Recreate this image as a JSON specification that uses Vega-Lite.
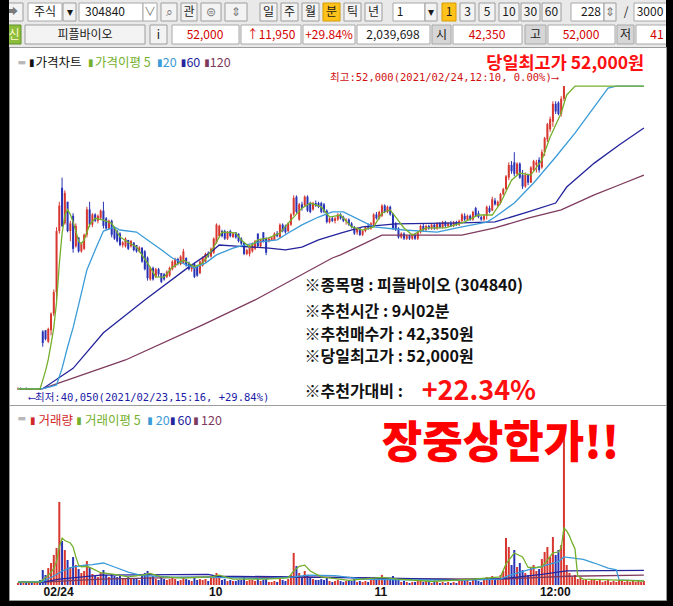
{
"$schema": "https://vega.github.io/schema/vega-lite/v6.json",
"background": "#000000",
"padding": {"left": 8, "right": 8, "top": 0, "bottom": 6},
"spacing": 0,
"bounds": "flush",
"resolve": {"scale": {"color": "independent", "fill": "independent", "stroke": "independent"}},
"config": {"view": {"stroke": null}, "font": "Noto Sans CJK KR"},
"datasets": {
"candles": [
{"i":0,"o":40100,"h":40150,"l":40050,"c":40100,"v":1700},{"i":1,"o":40100,"h":40150,"l":40050,"c":40050,"v":2600},{"i":2,"o":40050,"h":40100,"l":40050,"c":40100,"v":1700},{"i":3,"o":40100,"h":40150,"l":40050,"c":40050,"v":3400},{"i":4,"o":40050,"h":40100,"l":40050,"c":40100,"v":1700},{"i":5,"o":40100,"h":40100,"l":40050,"c":40050,"v":2600},{"i":6,"o":40050,"h":40100,"l":40050,"c":40050,"v":1700},{"i":7,"o":40050,"h":40100,"l":40050,"c":40100,"v":3400},{"i":8,"o":40100,"h":40100,"l":40050,"c":40050,"v":4300},
{"i":9,"o":42350,"h":42400,"l":41750,"c":41900,"v":12800},{"i":10,"o":42400,"h":42400,"l":42000,"c":42050,"v":8600},{"i":11,"o":41950,"h":42500,"l":41900,"c":42450,"v":14500},{"i":12,"o":42400,"h":43100,"l":42200,"c":43050,"v":18800},{"i":13,"o":43050,"h":44000,"l":42950,"c":43900,"v":25700},{"i":14,"o":43900,"h":46450,"l":43600,"c":46300,"v":31600},{"i":15,"o":46300,"h":47450,"l":46200,"c":47300,"v":71000},{"i":16,"o":48000,"h":48400,"l":46450,"c":46500,"v":37600},{"i":17,"o":46600,"h":47900,"l":46550,"c":47800,"v":29900},{"i":18,"o":47450,"h":47450,"l":46250,"c":46300,"v":21400},{"i":19,"o":46300,"h":46700,"l":45900,"c":46600,"v":15400},{"i":20,"o":46900,"h":47000,"l":45450,"c":45600,"v":23900},{"i":21,"o":45700,"h":46600,"l":45650,"c":46500,"v":17100},{"i":22,"o":46050,"h":46050,"l":45450,"c":45500,"v":13700},{"i":23,"o":45500,"h":45850,"l":45450,"c":45800,"v":10300},{"i":24,"o":45600,"h":46200,"l":45550,"c":46150,"v":12000},{"i":25,"o":46150,"h":47250,"l":46050,"c":47150,"v":20500},{"i":26,"o":47150,"h":47450,"l":46450,"c":46550,"v":15400},{"i":27,"o":46550,"h":47000,"l":46450,"c":46950,"v":9400},{"i":28,"o":46950,"h":47000,"l":46650,"c":46700,"v":7700},{"i":29,"o":46700,"h":46950,"l":46600,"c":46900,"v":6800},{"i":30,"o":46800,"h":47150,"l":46750,"c":47100,"v":10300},{"i":31,"o":47100,"h":47450,"l":46400,"c":46500,"v":12800},{"i":32,"o":46800,"h":46850,"l":46350,"c":46400,"v":8600},{"i":33,"o":46400,"h":46750,"l":46350,"c":46700,"v":6800},{"i":34,"o":46700,"h":46750,"l":46050,"c":46150,"v":9400},{"i":35,"o":46450,"h":46450,"l":45950,"c":46000,"v":7700},{"i":36,"o":46300,"h":46350,"l":45850,"c":45900,"v":6800},{"i":37,"o":46200,"h":46250,"l":45700,"c":45750,"v":8600},{"i":38,"o":45750,"h":45900,"l":45650,"c":45850,"v":5100},{"i":39,"o":45700,"h":46050,"l":45650,"c":46000,"v":6000},{"i":40,"o":45950,"h":45950,"l":45550,"c":45600,"v":6800},{"i":41,"o":45700,"h":45950,"l":45650,"c":45900,"v":5100},{"i":42,"o":45850,"h":45850,"l":45500,"c":45550,"v":6000},{"i":43,"o":45750,"h":45750,"l":45450,"c":45500,"v":5100},{"i":44,"o":45500,"h":45700,"l":45450,"c":45650,"v":4300},{"i":45,"o":45650,"h":45650,"l":45050,"c":45100,"v":7700},{"i":46,"o":45500,"h":45550,"l":44750,"c":44800,"v":10300},{"i":47,"o":45250,"h":45300,"l":44350,"c":44450,"v":12000},{"i":48,"o":44400,"h":44900,"l":44350,"c":44850,"v":6800},{"i":49,"o":44850,"h":44900,"l":44350,"c":44400,"v":7700},{"i":50,"o":44500,"h":44850,"l":44450,"c":44800,"v":5100},{"i":51,"o":44800,"h":44850,"l":44500,"c":44600,"v":4300},{"i":52,"o":44650,"h":44650,"l":44250,"c":44300,"v":6800},{"i":53,"o":44600,"h":44650,"l":44350,"c":44400,"v":5100},{"i":54,"o":44500,"h":44750,"l":44450,"c":44700,"v":4300},{"i":55,"o":44550,"h":44900,"l":44500,"c":44850,"v":5100},{"i":56,"o":44800,"h":45150,"l":44750,"c":45100,"v":6000},{"i":57,"o":44900,"h":45250,"l":44850,"c":45200,"v":5100},{"i":58,"o":45200,"h":45250,"l":44950,"c":45000,"v":3400},{"i":59,"o":45000,"h":45350,"l":44950,"c":45300,"v":4300},{"i":60,"o":45050,"h":45600,"l":45000,"c":45500,"v":6800},{"i":61,"o":45250,"h":45250,"l":44900,"c":44950,"v":5100},{"i":62,"o":45050,"h":45100,"l":44750,"c":44800,"v":4300},{"i":63,"o":44800,"h":45000,"l":44700,"c":44950,"v":3400},{"i":64,"o":45000,"h":45050,"l":44450,"c":44500,"v":6000},{"i":65,"o":44900,"h":44950,"l":44500,"c":44550,"v":4300},{"i":66,"o":44650,"h":45150,"l":44600,"c":45100,"v":5100},{"i":67,"o":44950,"h":45300,"l":44900,"c":45250,"v":4300},{"i":68,"o":45100,"h":45450,"l":45050,"c":45400,"v":5100},{"i":69,"o":45400,"h":45500,"l":45250,"c":45300,"v":3400},{"i":70,"o":45300,"h":45650,"l":45250,"c":45600,"v":6000},{"i":71,"o":45450,"h":46050,"l":45400,"c":46000,"v":7700},{"i":72,"o":45850,"h":46600,"l":45800,"c":46550,"v":10300},{"i":73,"o":46100,"h":46550,"l":46050,"c":46500,"v":6800},{"i":74,"o":46300,"h":46350,"l":46050,"c":46100,"v":4300},{"i":75,"o":46300,"h":46350,"l":45950,"c":46000,"v":5100},{"i":76,"o":46000,"h":46300,"l":45950,"c":46250,"v":3400},{"i":77,"o":46300,"h":46350,"l":46050,"c":46100,"v":4300},{"i":78,"o":46050,"h":46250,"l":46050,"c":46200,"v":3400},{"i":79,"o":46250,"h":46250,"l":46000,"c":46050,"v":3400},{"i":80,"o":46200,"h":46200,"l":45850,"c":45900,"v":4300},{"i":81,"o":46000,"h":46050,"l":45750,"c":45800,"v":4300},{"i":82,"o":45850,"h":45850,"l":45350,"c":45400,"v":6800},{"i":83,"o":45400,"h":45600,"l":45350,"c":45550,"v":3400},{"i":84,"o":45400,"h":45750,"l":45300,"c":45700,"v":4300},{"i":85,"o":45500,"h":45850,"l":45450,"c":45800,"v":4300},{"i":86,"o":45600,"h":45950,"l":45550,"c":45900,"v":3400},{"i":87,"o":46200,"h":46200,"l":45650,"c":45700,"v":5100},{"i":88,"o":45700,"h":46000,"l":45650,"c":45950,"v":3400},{"i":89,"o":46250,"h":46250,"l":45850,"c":45900,"v":4300},{"i":90,"o":46000,"h":46050,"l":45350,"c":45450,"v":6000},{"i":91,"o":45900,"h":46050,"l":45850,"c":46000,"v":2600},{"i":92,"o":45950,"h":46050,"l":45950,"c":46050,"v":2600},{"i":93,"o":45950,"h":46250,"l":45950,"c":46200,"v":3400},{"i":94,"o":46200,"h":46300,"l":46050,"c":46100,"v":2600},{"i":95,"o":46050,"h":46600,"l":46050,"c":46550,"v":5100},{"i":96,"o":46550,"h":46600,"l":46250,"c":46300,"v":4300},{"i":97,"o":46500,"h":46550,"l":46200,"c":46250,"v":3400},{"i":98,"o":46300,"h":46650,"l":46250,"c":46600,"v":5100},{"i":99,"o":46550,"h":47000,"l":46500,"c":46950,"v":8600},{"i":100,"o":46950,"h":47700,"l":46900,"c":47600,"v":27400},{"i":101,"o":47650,"h":47700,"l":47000,"c":47050,"v":16200},{"i":102,"o":46750,"h":47400,"l":46700,"c":47350,"v":10300},{"i":103,"o":47350,"h":47450,"l":47100,"c":47200,"v":6000},{"i":104,"o":47300,"h":47700,"l":47250,"c":47650,"v":12000},{"i":105,"o":47650,"h":47700,"l":47050,"c":47100,"v":8600},{"i":106,"o":47400,"h":47450,"l":47000,"c":47050,"v":6800},{"i":107,"o":47150,"h":47450,"l":47100,"c":47400,"v":5100},{"i":108,"o":47400,"h":47500,"l":47250,"c":47300,"v":4300},{"i":109,"o":47400,"h":47450,"l":47200,"c":47250,"v":4300},{"i":110,"o":47400,"h":47450,"l":47000,"c":47050,"v":5100},{"i":111,"o":47350,"h":47400,"l":47000,"c":47050,"v":4300},{"i":112,"o":47100,"h":47150,"l":46600,"c":46650,"v":6000},{"i":113,"o":46650,"h":46850,"l":46600,"c":46800,"v":3400},{"i":114,"o":46800,"h":46850,"l":46650,"c":46700,"v":2600},{"i":115,"o":46700,"h":46850,"l":46600,"c":46800,"v":3400},{"i":116,"o":46750,"h":47000,"l":46700,"c":46950,"v":4300},{"i":117,"o":46950,"h":47000,"l":46750,"c":46800,"v":3400},{"i":118,"o":46850,"h":46900,"l":46650,"c":46700,"v":2600},{"i":119,"o":46700,"h":46800,"l":46550,"c":46750,"v":3400},{"i":120,"o":46750,"h":46800,"l":46500,"c":46550,"v":4300},{"i":121,"o":46600,"h":46650,"l":46400,"c":46450,"v":3400},{"i":122,"o":46450,"h":46500,"l":46150,"c":46200,"v":5100},{"i":123,"o":46250,"h":46450,"l":46150,"c":46400,"v":2600},{"i":124,"o":46400,"h":46400,"l":46100,"c":46150,"v":3400},{"i":125,"o":46150,"h":46350,"l":46100,"c":46300,"v":2600},{"i":126,"o":46300,"h":46500,"l":46250,"c":46450,"v":3400},{"i":127,"o":46450,"h":46600,"l":46350,"c":46400,"v":2600},{"i":128,"o":46400,"h":46650,"l":46350,"c":46600,"v":4300},{"i":129,"o":46550,"h":47000,"l":46500,"c":46950,"v":6800},{"i":130,"o":46950,"h":47050,"l":46750,"c":46800,"v":4300},{"i":131,"o":46800,"h":47100,"l":46750,"c":47050,"v":6000},{"i":132,"o":46900,"h":47350,"l":46850,"c":47300,"v":8600},{"i":133,"o":47300,"h":47350,"l":47000,"c":47050,"v":5100},{"i":134,"o":47050,"h":47300,"l":47000,"c":47250,"v":4300},{"i":135,"o":47250,"h":47300,"l":46900,"c":46950,"v":5100},{"i":136,"o":47000,"h":47000,"l":46350,"c":46400,"v":7700},{"i":137,"o":46600,"h":46650,"l":46300,"c":46350,"v":5100},{"i":138,"o":46400,"h":46450,"l":46000,"c":46050,"v":4300},{"i":139,"o":46050,"h":46250,"l":46000,"c":46200,"v":2600},{"i":140,"o":46200,"h":46250,"l":45950,"c":46000,"v":3400},{"i":141,"o":46000,"h":46150,"l":45950,"c":46100,"v":2600},{"i":142,"o":46100,"h":46150,"l":45950,"c":46000,"v":1700},{"i":143,"o":46000,"h":46200,"l":45950,"c":46150,"v":2600},{"i":144,"o":46150,"h":46200,"l":45950,"c":46000,"v":2600},{"i":145,"o":46000,"h":46300,"l":45950,"c":46250,"v":3400},{"i":146,"o":46250,"h":46550,"l":46200,"c":46500,"v":4300},{"i":147,"o":46500,"h":46600,"l":46300,"c":46350,"v":2600},{"i":148,"o":46350,"h":46550,"l":46300,"c":46500,"v":3400},{"i":149,"o":46500,"h":46550,"l":46350,"c":46400,"v":2600},{"i":150,"o":46400,"h":46600,"l":46350,"c":46550,"v":1700},{"i":151,"o":46550,"h":46600,"l":46350,"c":46400,"v":2600},{"i":152,"o":46400,"h":46650,"l":46350,"c":46600,"v":2600},{"i":153,"o":46600,"h":46650,"l":46400,"c":46450,"v":1700},{"i":154,"o":46450,"h":46700,"l":46400,"c":46650,"v":2600},{"i":155,"o":46650,"h":46700,"l":46450,"c":46500,"v":1700},{"i":156,"o":46500,"h":46650,"l":46450,"c":46600,"v":2600},{"i":157,"o":46600,"h":46700,"l":46450,"c":46500,"v":1700},{"i":158,"o":46500,"h":46700,"l":46450,"c":46650,"v":2600},{"i":159,"o":46650,"h":46700,"l":46500,"c":46550,"v":1700},{"i":160,"o":46550,"h":46750,"l":46500,"c":46700,"v":3400},{"i":161,"o":46700,"h":47000,"l":46650,"c":46950,"v":5100},{"i":162,"o":46900,"h":47000,"l":46700,"c":46750,"v":3400},{"i":163,"o":46750,"h":46950,"l":46700,"c":46900,"v":4300},{"i":164,"o":46900,"h":46950,"l":46700,"c":46750,"v":2600},{"i":165,"o":46750,"h":47100,"l":46700,"c":47050,"v":5100},{"i":166,"o":47200,"h":47250,"l":46850,"c":46900,"v":6000},{"i":167,"o":47000,"h":47100,"l":46800,"c":46850,"v":3400},{"i":168,"o":46850,"h":46900,"l":46700,"c":46750,"v":2600},{"i":169,"o":46750,"h":46950,"l":46700,"c":46900,"v":4300},{"i":170,"o":46900,"h":47300,"l":46750,"c":47250,"v":6800},{"i":171,"o":47200,"h":47300,"l":47000,"c":47050,"v":4300},{"i":172,"o":47100,"h":47650,"l":47100,"c":47550,"v":7700},{"i":173,"o":47500,"h":47600,"l":47300,"c":47350,"v":5100},{"i":174,"o":47300,"h":47500,"l":47250,"c":47450,"v":6000},{"i":175,"o":47400,"h":47800,"l":47350,"c":47750,"v":8600},{"i":176,"o":47750,"h":48000,"l":47700,"c":47950,"v":12000},{"i":177,"o":47950,"h":48500,"l":47900,"c":48450,"v":40200},{"i":178,"o":48400,"h":49000,"l":48300,"c":48900,"v":32500},{"i":179,"o":48900,"h":49050,"l":48550,"c":48650,"v":17100},{"i":180,"o":49000,"h":49400,"l":48450,"c":48550,"v":29900},{"i":181,"o":48550,"h":49000,"l":48500,"c":48950,"v":15400},{"i":182,"o":48950,"h":49000,"l":48350,"c":48400,"v":18800},{"i":183,"o":48500,"h":48700,"l":47950,"c":48050,"v":12800},{"i":184,"o":48050,"h":48600,"l":48000,"c":48500,"v":10300},{"i":185,"o":48500,"h":48550,"l":48100,"c":48200,"v":8600},{"i":186,"o":48200,"h":48850,"l":48200,"c":48800,"v":15400},{"i":187,"o":48700,"h":49100,"l":48650,"c":49050,"v":17100},{"i":188,"o":48900,"h":49100,"l":48600,"c":49000,"v":12000},{"i":189,"o":49100,"h":49200,"l":48600,"c":48700,"v":13700},{"i":190,"o":48800,"h":49500,"l":48750,"c":49400,"v":22200},{"i":191,"o":49400,"h":50000,"l":49250,"c":49950,"v":28200},{"i":192,"o":49900,"h":50550,"l":49800,"c":50500,"v":32500},{"i":193,"o":50300,"h":50800,"l":50200,"c":50700,"v":23900},{"i":194,"o":50600,"h":51400,"l":50400,"c":51300,"v":41000},{"i":195,"o":51300,"h":51400,"l":50900,"c":51000,"v":25700},{"i":196,"o":51350,"h":51400,"l":50850,"c":50900,"v":29900},{"i":197,"o":50900,"h":51600,"l":50800,"c":51500,"v":34200},{"i":198,"o":51500,"h":52000,"l":51400,"c":52000,"v":132500},
{"i":199,"o":52000,"h":52000,"l":52000,"c":52000,"v":17100},{"i":200,"o":52000,"h":52000,"l":52000,"c":52000,"v":10300},{"i":201,"o":52000,"h":52000,"l":52000,"c":52000,"v":6800},{"i":202,"o":52000,"h":52000,"l":52000,"c":52000,"v":8600},{"i":203,"o":52000,"h":52000,"l":52000,"c":52000,"v":5100},{"i":204,"o":52000,"h":52000,"l":52000,"c":52000,"v":6000},{"i":205,"o":52000,"h":52000,"l":52000,"c":52000,"v":4300},{"i":206,"o":52000,"h":52000,"l":52000,"c":52000,"v":5100},{"i":207,"o":52000,"h":52000,"l":52000,"c":52000,"v":3400},{"i":208,"o":52000,"h":52000,"l":52000,"c":52000,"v":4300},{"i":209,"o":52000,"h":52000,"l":52000,"c":52000,"v":5100},{"i":210,"o":52000,"h":52000,"l":52000,"c":52000,"v":3400},{"i":211,"o":52000,"h":52000,"l":52000,"c":52000,"v":4300},{"i":212,"o":52000,"h":52000,"l":52000,"c":52000,"v":2600},{"i":213,"o":52000,"h":52000,"l":52000,"c":52000,"v":3400},{"i":214,"o":52000,"h":52000,"l":52000,"c":52000,"v":4300},{"i":215,"o":52000,"h":52000,"l":52000,"c":52000,"v":2600},{"i":216,"o":52000,"h":52000,"l":52000,"c":52000,"v":3400},{"i":217,"o":52000,"h":52000,"l":52000,"c":52000,"v":2600},{"i":218,"o":52000,"h":52000,"l":52000,"c":52000,"v":4300},{"i":219,"o":52000,"h":52000,"l":52000,"c":52000,"v":3400},{"i":220,"o":52000,"h":52000,"l":52000,"c":52000,"v":2600},{"i":221,"o":52000,"h":52000,"l":52000,"c":52000,"v":3400},{"i":222,"o":52000,"h":52000,"l":52000,"c":52000,"v":2600},{"i":223,"o":52000,"h":52000,"l":52000,"c":52000,"v":4300},{"i":224,"o":52000,"h":52000,"l":52000,"c":52000,"v":2600},{"i":225,"o":52000,"h":52000,"l":52000,"c":52000,"v":3400},{"i":226,"o":52000,"h":52000,"l":52000,"c":52000,"v":2600},{"i":227,"o":52000,"h":52000,"l":52000,"c":52000,"v":3400}
],
"ma": [
{"s":"120","i":0,"p":40100},{"s":"120","i":9,"p":40100},{"s":"120","i":39,"p":41230},{"s":"120","i":67,"p":42610},{"s":"120","i":86,"p":43590},{"s":"120","i":114,"p":45240},{"s":"120","i":117,"p":45360},{"s":"120","i":132,"p":46140},{"s":"120","i":161,"p":46140},{"s":"120","i":173,"p":46420},{"s":"120","i":185,"p":46810},{"s":"120","i":197,"p":47130},{"s":"120","i":209,"p":47720},{"s":"120","i":218,"p":48110},{"s":"120","i":227,"p":48500},
{"s":"60","i":0,"p":40100},{"s":"60","i":9,"p":40100},{"s":"60","i":20,"p":40900},{"s":"60","i":31,"p":42300},{"s":"60","i":46,"p":43590},{"s":"60","i":62,"p":44890},{"s":"60","i":70,"p":45480},{"s":"60","i":73,"p":45750},{"s":"60","i":79,"p":45710},{"s":"60","i":91,"p":45630},{"s":"60","i":97,"p":45560},{"s":"60","i":103,"p":45670},{"s":"60","i":109,"p":45950},{"s":"60","i":117,"p":46220},{"s":"60","i":125,"p":46460},{"s":"60","i":137,"p":46580},{"s":"60","i":161,"p":46620},{"s":"60","i":173,"p":46660},{"s":"60","i":185,"p":47050},{"s":"60","i":195,"p":47400},{"s":"60","i":199,"p":48030},{"s":"60","i":209,"p":48970},{"s":"60","i":218,"p":49680},{"s":"60","i":227,"p":50350},
{"s":"20","i":0,"p":40100},{"s":"20","i":9,"p":40100},{"s":"20","i":12,"p":40180},{"s":"20","i":14,"p":40250},{"s":"20","i":16,"p":40900},{"s":"20","i":18,"p":41740},{"s":"20","i":20,"p":42500},{"s":"20","i":22,"p":43400},{"s":"20","i":25,"p":44770},{"s":"20","i":28,"p":45550},{"s":"20","i":31,"p":46300},{"s":"20","i":35,"p":46460},{"s":"20","i":37,"p":46340},{"s":"20","i":43,"p":46260},{"s":"20","i":47,"p":45950},{"s":"20","i":52,"p":45560},{"s":"20","i":56,"p":45240},{"s":"20","i":61,"p":44970},{"s":"20","i":64,"p":44850},{"s":"20","i":68,"p":45040},{"s":"20","i":72,"p":45360},{"s":"20","i":78,"p":45630},{"s":"20","i":82,"p":45750},{"s":"20","i":88,"p":45870},{"s":"20","i":94,"p":45950},{"s":"20","i":98,"p":46220},{"s":"20","i":103,"p":46540},{"s":"20","i":109,"p":46850},{"s":"20","i":114,"p":47050},{"s":"20","i":118,"p":47050},{"s":"20","i":129,"p":46460},{"s":"20","i":140,"p":46340},{"s":"20","i":152,"p":46260},{"s":"20","i":161,"p":46460},{"s":"20","i":170,"p":46650},{"s":"20","i":173,"p":46850},{"s":"20","i":180,"p":47400},{"s":"20","i":187,"p":48190},{"s":"20","i":195,"p":49210},{"s":"20","i":202,"p":50150},{"s":"20","i":209,"p":51180},{"s":"20","i":214,"p":51920},{"s":"20","i":217,"p":52000},{"s":"20","i":227,"p":52000},
{"s":"5","i":0,"p":40090},{"s":"5","i":8,"p":40090},{"s":"5","i":9,"p":40440},{"s":"5","i":10,"p":40800},{"s":"5","i":11,"p":41250},{"s":"5","i":12,"p":41850},{"s":"5","i":13,"p":42500},{"s":"5","i":14,"p":43500},{"s":"5","i":15,"p":45000},{"s":"5","i":16,"p":46200},{"s":"5","i":17,"p":46900},{"s":"5","i":18,"p":47150},{"s":"5","i":19,"p":46950},{"s":"5","i":20,"p":46650},{"s":"5","i":21,"p":46300},{"s":"5","i":22,"p":45900},{"s":"5","i":23,"p":45800},{"s":"5","i":24,"p":45950},{"s":"5","i":25,"p":46250},{"s":"5","i":26,"p":46550},{"s":"5","i":28,"p":46800},{"s":"5","i":31,"p":46730},{"s":"5","i":34,"p":46600},{"s":"5","i":37,"p":46070},{"s":"5","i":40,"p":45850},{"s":"5","i":43,"p":45670},{"s":"5","i":47,"p":45040},{"s":"5","i":50,"p":44500},{"s":"5","i":53,"p":44490},{"s":"5","i":56,"p":44880},{"s":"5","i":60,"p":45160},{"s":"5","i":64,"p":44890},{"s":"5","i":67,"p":45040},{"s":"5","i":71,"p":45670},{"s":"5","i":74,"p":46260},{"s":"5","i":77,"p":46250},{"s":"5","i":79,"p":46220},{"s":"5","i":81,"p":45950},{"s":"5","i":84,"p":45670},{"s":"5","i":87,"p":45950},{"s":"5","i":91,"p":46030},{"s":"5","i":95,"p":46220},{"s":"5","i":99,"p":46730},{"s":"5","i":103,"p":47200},{"s":"5","i":106,"p":47400},{"s":"5","i":110,"p":47250},{"s":"5","i":113,"p":46850},{"s":"5","i":117,"p":46930},{"s":"5","i":121,"p":46460},{"s":"5","i":125,"p":46340},{"s":"5","i":129,"p":46460},{"s":"5","i":132,"p":47010},{"s":"5","i":135,"p":47130},{"s":"5","i":137,"p":46850},{"s":"5","i":140,"p":46420},{"s":"5","i":143,"p":46140},{"s":"5","i":148,"p":46420},{"s":"5","i":155,"p":46420},{"s":"5","i":162,"p":46660},{"s":"5","i":167,"p":46930},{"s":"5","i":172,"p":46930},{"s":"5","i":175,"p":47400},{"s":"5","i":179,"p":48300},{"s":"5","i":182,"p":48580},{"s":"5","i":186,"p":48500},{"s":"5","i":190,"p":49090},{"s":"5","i":193,"p":50000},{"s":"5","i":197,"p":50940},{"s":"5","i":199,"p":51650},{"s":"5","i":202,"p":52000},{"s":"5","i":227,"p":52000}
],
"vma": [
{"s":"120","i":0,"v":2500},{"s":"120","i":9,"v":2500},{"s":"120","i":30,"v":5000},{"s":"120","i":69,"v":7000},{"s":"120","i":120,"v":6500},{"s":"120","i":130,"v":5500},{"s":"120","i":176,"v":5000},{"s":"120","i":199,"v":7500},{"s":"120","i":227,"v":8500},
{"s":"60","i":0,"v":2500},{"s":"60","i":9,"v":2500},{"s":"60","i":15,"v":5000},{"s":"60","i":30,"v":8500},{"s":"60","i":69,"v":9000},{"s":"60","i":72,"v":7500},{"s":"60","i":100,"v":7000},{"s":"60","i":110,"v":6500},{"s":"60","i":130,"v":6000},{"s":"60","i":160,"v":4500},{"s":"60","i":176,"v":5500},{"s":"60","i":190,"v":9000},{"s":"60","i":199,"v":12000},{"s":"60","i":227,"v":12500},
{"s":"20","i":0,"v":2500},{"s":"20","i":9,"v":3000},{"s":"20","i":14,"v":9000},{"s":"20","i":16,"v":12000},{"s":"20","i":20,"v":15400},{"s":"20","i":25,"v":17100},{"s":"20","i":27,"v":17500},{"s":"20","i":31,"v":18800},{"s":"20","i":35,"v":15400},{"s":"20","i":40,"v":11000},{"s":"20","i":45,"v":8000},{"s":"20","i":55,"v":7000},{"s":"20","i":70,"v":6500},{"s":"20","i":90,"v":5500},{"s":"20","i":100,"v":7000},{"s":"20","i":105,"v":8500},{"s":"20","i":115,"v":8000},{"s":"20","i":125,"v":5000},{"s":"20","i":140,"v":4500},{"s":"20","i":160,"v":4000},{"s":"20","i":175,"v":5000},{"s":"20","i":178,"v":8000},{"s":"20","i":185,"v":13000},{"s":"20","i":190,"v":16000},{"s":"20","i":196,"v":20000},{"s":"20","i":198,"v":24000},{"s":"20","i":205,"v":22000},{"s":"20","i":209,"v":18800},{"s":"20","i":214,"v":14500},{"s":"20","i":217,"v":13000},{"s":"20","i":218,"v":4300},{"s":"20","i":222,"v":4000},{"s":"20","i":227,"v":3800},
{"s":"5","i":0,"v":2500},{"s":"5","i":8,"v":2500},{"s":"5","i":9,"v":4500},{"s":"5","i":11,"v":8000},{"s":"5","i":13,"v":14000},{"s":"5","i":14,"v":20000},{"s":"5","i":15,"v":32500},{"s":"5","i":16,"v":40000},{"s":"5","i":17,"v":38000},{"s":"5","i":19,"v":35900},{"s":"5","i":20,"v":32500},{"s":"5","i":21,"v":24000},{"s":"5","i":22,"v":17000},{"s":"5","i":23,"v":15500},{"s":"5","i":25,"v":16000},{"s":"5","i":27,"v":14000},{"s":"5","i":30,"v":10500},{"s":"5","i":35,"v":9000},{"s":"5","i":40,"v":7000},{"s":"5","i":45,"v":8500},{"s":"5","i":48,"v":10000},{"s":"5","i":52,"v":7000},{"s":"5","i":60,"v":6000},{"s":"5","i":70,"v":7000},{"s":"5","i":73,"v":8500},{"s":"5","i":78,"v":5000},{"s":"5","i":90,"v":5000},{"s":"5","i":98,"v":6000},{"s":"5","i":100,"v":12000},{"s":"5","i":102,"v":16000},{"s":"5","i":104,"v":17000},{"s":"5","i":106,"v":12000},{"s":"5","i":110,"v":7000},{"s":"5","i":120,"v":4000},{"s":"5","i":132,"v":6500},{"s":"5","i":138,"v":5000},{"s":"5","i":150,"v":3000},{"s":"5","i":165,"v":5000},{"s":"5","i":175,"v":7000},{"s":"5","i":177,"v":18000},{"s":"5","i":180,"v":27400},{"s":"5","i":183,"v":24000},{"s":"5","i":185,"v":15000},{"s":"5","i":188,"v":15000},{"s":"5","i":190,"v":15400},{"s":"5","i":192,"v":21400},{"s":"5","i":194,"v":27400},{"s":"5","i":196,"v":28200},{"s":"5","i":197,"v":31600},{"s":"5","i":198,"v":48700},{"s":"5","i":199,"v":46200},{"s":"5","i":200,"v":42000},{"s":"5","i":201,"v":36000},{"s":"5","i":202,"v":31000},{"s":"5","i":203,"v":7700},{"s":"5","i":205,"v":5100},{"s":"5","i":215,"v":4300},{"s":"5","i":227,"v":3400}
],
"tbBox": [
{"x0":1,"x1":22,"y0":3,"y1":21,"k":"btn"},{"x0":27,"x1":61,"y0":3,"y1":21,"k":"box"},{"x0":62,"x1":75,"y0":3,"y1":21,"k":"btn"},{"x0":78,"x1":142,"y0":3,"y1":21,"k":"box"},{"x0":142,"x1":156,"y0":3,"y1":21,"k":"box"},{"x0":160,"x1":176,"y0":3,"y1":21,"k":"btn"},{"x0":180,"x1":196,"y0":3,"y1":21,"k":"btn"},{"x0":200,"x1":220,"y0":3,"y1":21,"k":"btn"},{"x0":224,"x1":246,"y0":3,"y1":21,"k":"btn"},{"x0":259,"x1":276,"y0":3,"y1":21,"k":"btn"},{"x0":280,"x1":297,"y0":3,"y1":21,"k":"btn"},{"x0":301,"x1":318,"y0":3,"y1":21,"k":"btn"},{"x0":322,"x1":339,"y0":3,"y1":21,"k":"hl"},{"x0":343,"x1":360,"y0":3,"y1":21,"k":"btn"},{"x0":364,"x1":381,"y0":3,"y1":21,"k":"btn"},{"x0":392,"x1":424,"y0":3,"y1":21,"k":"box"},{"x0":424,"x1":436,"y0":3,"y1":21,"k":"btn"},{"x0":441,"x1":455,"y0":3,"y1":21,"k":"hl"},{"x0":459,"x1":474,"y0":3,"y1":21,"k":"btn"},{"x0":478,"x1":494,"y0":3,"y1":21,"k":"btn"},{"x0":498,"x1":518,"y0":3,"y1":21,"k":"btn"},{"x0":520,"x1":539,"y0":3,"y1":21,"k":"btn"},{"x0":541,"x1":560,"y0":3,"y1":21,"k":"btn"},{"x0":570,"x1":603,"y0":3,"y1":21,"k":"box"},{"x0":603,"x1":615,"y0":3,"y1":21,"k":"btn"},{"x0":633,"x1":668,"y0":3,"y1":21,"k":"box"},
{"x0":6,"x1":20,"y0":25,"y1":44,"k":"green"},{"x0":24,"x1":144,"y0":25,"y1":44,"k":"btn"},{"x0":149,"x1":166,"y0":25,"y1":44,"k":"btn"},{"x0":171,"x1":238,"y0":25,"y1":44,"k":"box"},{"x0":240,"x1":300,"y0":25,"y1":44,"k":"box"},{"x0":302,"x1":354,"y0":25,"y1":44,"k":"box"},{"x0":356,"x1":429,"y0":25,"y1":44,"k":"box"},{"x0":431,"x1":450,"y0":25,"y1":44,"k":"lbl"},{"x0":452,"x1":521,"y0":25,"y1":44,"k":"box"},{"x0":524,"x1":545,"y0":25,"y1":44,"k":"lbl"},{"x0":547,"x1":614,"y0":25,"y1":44,"k":"box"},{"x0":616,"x1":633,"y0":25,"y1":44,"k":"lbl"},{"x0":635,"x1":668,"y0":25,"y1":44,"k":"box"}
],
"tbText": [
{"x":11,"y":12,"t":"➡","k":"g"},{"x":44,"y":12,"t":"주식","k":"k"},{"x":68.5,"y":12,"t":"▾","k":"k"},{"x":104,"y":12,"t":"304840","k":"k"},{"x":149,"y":12,"t":"∨","k":"g"},{"x":168,"y":12,"t":"⌕","k":"g"},{"x":188,"y":12,"t":"관","k":"k"},{"x":210,"y":12,"t":"⊜","k":"g"},{"x":235,"y":12,"t":"⇕","k":"g"},{"x":267.5,"y":12,"t":"일","k":"k"},{"x":288.5,"y":12,"t":"주","k":"k"},{"x":309.5,"y":12,"t":"월","k":"k"},{"x":330.5,"y":12,"t":"분","k":"k"},{"x":351.5,"y":12,"t":"틱","k":"k"},{"x":372.5,"y":12,"t":"년","k":"k"},{"x":399,"y":12,"t":"1","k":"k"},{"x":430,"y":12,"t":"▾","k":"k"},{"x":448,"y":12,"t":"1","k":"k"},{"x":466.5,"y":12,"t":"3","k":"k"},{"x":486,"y":12,"t":"5","k":"k"},{"x":508,"y":12,"t":"10","k":"k"},{"x":529.5,"y":12,"t":"30","k":"k"},{"x":550.5,"y":12,"t":"60","k":"k"},{"x":590,"y":12,"t":"228","k":"k"},{"x":609,"y":12,"t":"⇕","k":"g"},{"x":625,"y":12,"t":"/","k":"k"},{"x":649,"y":12,"t":"3000","k":"k"},
{"x":13,"y":34.5,"t":"신","k":"w"},{"x":84,"y":34.5,"t":"피플바이오","k":"k"},{"x":157.5,"y":34.5,"t":"i","k":"k"},{"x":204,"y":34.5,"t":"52,000","k":"r"},{"x":270,"y":34.5,"t":"↑11,950","k":"r"},{"x":328,"y":34.5,"t":"+29.84%","k":"r"},{"x":392,"y":34.5,"t":"2,039,698","k":"k"},{"x":440.5,"y":34.5,"t":"시","k":"k"},{"x":486,"y":34.5,"t":"42,350","k":"r"},{"x":534.5,"y":34.5,"t":"고","k":"k"},{"x":580,"y":34.5,"t":"52,000","k":"r"},{"x":624.5,"y":34.5,"t":"저","k":"k"},{"x":656,"y":34.5,"t":"41","k":"r"}
],
"pLegMark": [{"s":"price","i":5.0,"p":52890},{"s":"5","i":26.4,"p":52890},{"s":"20","i":51.4,"p":52890},{"s":"60","i":60.0,"p":52890},{"s":"120","i":68.6,"p":52890}],
"pLegText": [{"s":"price","i":6.4,"p":52890,"t":"가격차트"},{"s":"5","i":27.9,"p":52890,"t":"가격이평 5"},{"s":"20","i":52.5,"p":52890,"t":"20"},{"s":"60","i":61.1,"p":52890,"t":"60"},{"s":"120","i":69.6,"p":52890,"t":"120"}],
"vLegMark": [{"s":"vol","i":5.4,"v":140200},{"s":"5","i":22.1,"v":140200},{"s":"20","i":47.9,"v":140200},{"s":"60","i":56.1,"v":140200},{"s":"120","i":64.6,"v":140200}],
"vLegText": [{"s":"vol","i":7.5,"v":140200,"t":"거래량"},{"s":"5","i":24.3,"v":140200,"t":"거래이평 5"},{"s":"20","i":50.0,"v":140200,"t":"20"},{"s":"60","i":57.9,"v":140200,"t":"60"},{"s":"120","i":66.4,"v":140200,"t":"120"}],
"timeLabels": [{"i":9.3,"v":-6300,"t":"02/24"},{"i":69.3,"v":-6300,"t":"10"},{"i":129.3,"v":-6300,"t":"11"},{"i":189.3,"v":-6300,"t":"12:00"}],
"block": [{"i":103.9,"p":44140,"t":"※종목명 : 피플바이오 (304840)"},{"i":103.9,"p":43118,"t":"※추천시간 : 9시02분"},{"i":103.9,"p":42214,"t":"※추천매수가 : 42,350원"},{"i":103.9,"p":41350,"t":"※당일최고가 : 52,000원"},{"i":103.9,"p":39974,"t":"※추천가대비 :"}]
},
"vconcat": [
{
"width": 657, "height": 47,
"view": {"fill": "#e9e9e9", "stroke": null},
"layer": [
{"data": {"name": "tbBox"}, "mark": {"type": "rect", "strokeWidth": 1, "clip": true},
 "encoding": {
  "x": {"field": "x0", "type": "quantitative", "scale": {"domain": [8, 665], "nice": false, "zero": false}, "axis": null},
  "x2": {"field": "x1"},
  "y": {"field": "y0", "type": "quantitative", "scale": {"domain": [0, 47], "reverse": true, "nice": false, "zero": false}, "axis": null},
  "y2": {"field": "y1"},
  "fill": {"field": "k", "type": "nominal", "scale": {"domain": ["box","btn","hl","lbl","green"], "range": ["#ffffff","#f3f3f3","#ffc21a","#d6d6d6","#8cbd3c"]}, "legend": null},
  "stroke": {"field": "k", "type": "nominal", "scale": {"domain": ["box","btn","hl","lbl","green"], "range": ["#a8a8a8","#9d9d9d","#d69a00","#a8a8a8","#5f8f25"]}, "legend": null}
 }},
{"data": {"name": "tbText"}, "mark": {"type": "text", "fontSize": 12, "baseline": "middle", "align": "center", "clip": true, "font": "Noto Sans CJK KR"},
 "encoding": {
  "x": {"field": "x", "type": "quantitative", "axis": null},
  "y": {"field": "y", "type": "quantitative", "axis": null},
  "text": {"field": "t"},
  "color": {"field": "k", "type": "nominal", "scale": {"domain": ["k","r","g","w"], "range": ["#1a1a1a","#d40000","#7a7a7a","#fffbd0"]}, "legend": null}
 }}
]
},
{
"width": 657, "height": 358,
"view": {"fill": "#ffffff", "stroke": "#9c9c9c"},
"layer": [
{"data": {"name": "candles"}, "mark": {"type": "rule", "strokeWidth": 1},
 "encoding": {
  "x": {"field": "i", "type": "quantitative", "scale": {"domain": [-1.43, 233.2], "nice": false, "zero": false},
        "axis": {"values": [9, 69, 129, 189], "grid": true, "gridColor": "#e0e0e0", "labels": false, "ticks": false, "domain": false, "title": null}},
  "y": {"field": "l", "type": "quantitative", "scale": {"domain": [39460, 53535], "nice": false, "zero": false},
        "axis": {"orient": "right", "values": [40000,41000,42000,43000,44000,45000,46000,47000,48000,49000,50000,51000,52000,53000], "grid": true, "gridColor": "#e0e0e0", "labels": false, "ticks": false, "domain": false, "title": null}},
  "y2": {"field": "h"},
  "color": {"condition": {"test": "datum.c >= datum.o", "value": "#d8372f"}, "value": "#2934b5"}
 }},
{"data": {"name": "candles"}, "mark": {"type": "bar", "width": 2},
 "encoding": {
  "x": {"field": "i", "type": "quantitative", "axis": null},
  "y": {"field": "o", "type": "quantitative", "axis": null},
  "y2": {"field": "c"},
  "color": {"condition": {"test": "datum.c >= datum.o", "value": "#d8372f"}, "value": "#2934b5"}
 }},
{"data": {"name": "ma"}, "mark": {"type": "line", "strokeWidth": 1.3},
 "encoding": {
  "x": {"field": "i", "type": "quantitative", "axis": null},
  "y": {"field": "p", "type": "quantitative", "axis": null},
  "color": {"field": "s", "type": "nominal", "scale": {"domain": ["price","5","20","60","120"], "range": ["#111111","#74b02c","#3b9bd8","#24249c","#7e3a5e"]}, "legend": null},
  "order": {"field": "i", "type": "quantitative"}
 }},
{"mark": {"type": "rule", "color": "#ff0000", "strokeWidth": 2},
 "encoding": {"y": {"datum": 52000, "type": "quantitative", "axis": null}}},
{"mark": {"type": "rule", "color": "#ff0000", "strokeWidth": 1},
 "encoding": {"y": {"datum": 42045, "type": "quantitative", "axis": null}}},
{"mark": {"type": "rule", "color": "#ff0000", "strokeWidth": 1.5},
 "encoding": {"x": {"datum": 11.5, "type": "quantitative", "axis": null}, "y": {"datum": 41430, "type": "quantitative", "axis": null}, "y2": {"datum": 39460}}},
{"mark": {"type": "rect", "filled": false, "color": "#ff0000", "strokeWidth": 3},
 "encoding": {"x": {"datum": 3.1, "type": "quantitative", "axis": null}, "x2": {"datum": 19.9}, "y": {"datum": 42800, "type": "quantitative", "axis": null}, "y2": {"datum": 41430}}},
{"data": {"values": [{"i": 1.4, "p": 52950, "t": "▬"}]}, "mark": {"type": "text", "font": "DejaVu Sans", "fontSize": 9, "color": "#b8b8b8", "baseline": "middle"},
 "encoding": {"x": {"field": "i", "type": "quantitative", "axis": null}, "y": {"field": "p", "type": "quantitative", "axis": null}, "text": {"field": "t"}}},
{"data": {"name": "pLegMark"}, "mark": {"type": "text", "font": "DejaVu Sans", "fontSize": 10, "baseline": "middle", "align": "center", "text": "▮"},
 "encoding": {"x": {"field": "i", "type": "quantitative", "axis": null}, "y": {"field": "p", "type": "quantitative", "axis": null}, "color": {"field": "s", "type": "nominal", "legend": null}}},
{"data": {"name": "pLegText"}, "mark": {"type": "text", "fontSize": 12.5, "baseline": "middle", "align": "left"},
 "encoding": {"x": {"field": "i", "type": "quantitative", "axis": null}, "y": {"field": "p", "type": "quantitative", "axis": null}, "text": {"field": "t"}, "color": {"field": "s", "type": "nominal", "legend": null}}},
{"data": {"values": [{"i": 227.1, "p": 52884, "t": "당일최고가 52,000원"}]}, "mark": {"type": "text", "fontSize": 17.5, "fontWeight": "bold", "color": "#ff1010", "baseline": "middle", "align": "right"},
 "encoding": {"x": {"field": "i", "type": "quantitative", "axis": null}, "y": {"field": "p", "type": "quantitative", "axis": null}, "text": {"field": "t"}}},
{"data": {"values": [{"i": 113.2, "p": 52314, "t": "최고:52,000(2021/02/24,12:10, 0.00%)⟶"}]}, "mark": {"type": "text", "font": "DejaVu Sans Mono, Noto Sans CJK KR", "fontSize": 10.5, "color": "#d01010", "baseline": "middle", "align": "left"},
 "encoding": {"x": {"field": "i", "type": "quantitative", "axis": null}, "y": {"field": "p", "type": "quantitative", "axis": null}, "text": {"field": "t"}}},
{"data": {"values": [{"i": 3.9, "p": 39738, "t": "⟵최저:40,050(2021/02/23,15:16, +29.84%)"}]}, "mark": {"type": "text", "font": "DejaVu Sans Mono, Noto Sans CJK KR", "fontSize": 10.5, "color": "#1c1ca8", "baseline": "middle", "align": "left"},
 "encoding": {"x": {"field": "i", "type": "quantitative", "axis": null}, "y": {"field": "p", "type": "quantitative", "axis": null}, "text": {"field": "t"}}},
{"data": {"name": "block"}, "mark": {"type": "text", "fontSize": 16, "fontWeight": "bold", "color": "#111111", "baseline": "middle", "align": "left"},
 "encoding": {"x": {"field": "i", "type": "quantitative", "axis": null}, "y": {"field": "p", "type": "quantitative", "axis": null}, "text": {"field": "t"}}},
{"data": {"values": [{"i": 146.4, "p": 39974, "t": "+22.34%"}]}, "mark": {"type": "text", "fontSize": 27, "fontWeight": "bold", "color": "#ff1010", "baseline": "middle", "align": "left"},
 "encoding": {"x": {"field": "i", "type": "quantitative", "axis": null}, "y": {"field": "p", "type": "quantitative", "axis": null}, "text": {"field": "t"}}}
]
},
{
"width": 657, "height": 195,
"view": {"fill": "#ffffff", "stroke": "#9c9c9c"},
"layer": [
{"data": {"name": "candles"}, "mark": {"type": "bar", "width": 2},
 "encoding": {
  "x": {"field": "i", "type": "quantitative", "scale": {"domain": [-1.43, 233.2], "nice": false, "zero": false},
        "axis": {"values": [9, 69, 129, 189], "grid": true, "gridColor": "#e0e0e0", "labels": false, "ticks": false, "domain": false, "title": null}},
  "y": {"field": "v", "type": "quantitative", "scale": {"domain": [-12825, 153900], "nice": false, "zero": false},
        "axis": {"orient": "right", "values": [0,20000,40000,60000,80000,100000,120000,140000], "grid": true, "gridColor": "#e0e0e0", "labels": false, "ticks": false, "domain": false, "title": null}},
  "y2": {"datum": 0},
  "color": {"condition": {"test": "datum.c >= datum.o", "value": "#d8372f"}, "value": "#2934b5"}
 }},
{"data": {"name": "vma"}, "mark": {"type": "line", "strokeWidth": 1.3},
 "encoding": {
  "x": {"field": "i", "type": "quantitative", "axis": null},
  "y": {"field": "v", "type": "quantitative", "axis": null},
  "color": {"field": "s", "type": "nominal", "scale": {"domain": ["vol","5","20","60","120"], "range": ["#d02828","#74b02c","#3b9bd8","#24249c","#7e3a5e"]}, "legend": null},
  "order": {"field": "i", "type": "quantitative"}
 }},
{"data": {"name": "timeLabels"}, "mark": {"type": "text", "font": "Liberation Sans", "fontWeight": "bold", "fontSize": 12, "color": "#111111", "baseline": "middle", "align": "left"},
 "encoding": {"x": {"field": "i", "type": "quantitative", "axis": null}, "y": {"field": "v", "type": "quantitative", "axis": null}, "text": {"field": "t"}}},
{"data": {"values": [{"i": 1.4, "v": 143000, "t": "▬"}]}, "mark": {"type": "text", "font": "DejaVu Sans", "fontSize": 9, "color": "#b8b8b8", "baseline": "middle"},
 "encoding": {"x": {"field": "i", "type": "quantitative", "axis": null}, "y": {"field": "v", "type": "quantitative", "axis": null}, "text": {"field": "t"}}},
{"data": {"name": "vLegMark"}, "mark": {"type": "text", "font": "DejaVu Sans", "fontSize": 10, "baseline": "middle", "align": "center", "text": "▮"},
 "encoding": {"x": {"field": "i", "type": "quantitative", "axis": null}, "y": {"field": "v", "type": "quantitative", "axis": null}, "color": {"field": "s", "type": "nominal", "legend": null}}},
{"data": {"name": "vLegText"}, "mark": {"type": "text", "fontSize": 12.5, "baseline": "middle", "align": "left"},
 "encoding": {"x": {"field": "i", "type": "quantitative", "axis": null}, "y": {"field": "v", "type": "quantitative", "axis": null}, "text": {"field": "t"}, "color": {"field": "s", "type": "nominal", "legend": null}}},
{"data": {"values": [{"i": 175, "v": 119700, "t": "장중상한가!!"}]}, "mark": {"type": "text", "fontSize": 44, "fontWeight": 900, "color": "#ff0000", "baseline": "middle", "align": "center"},
 "encoding": {"x": {"field": "i", "type": "quantitative", "axis": null}, "y": {"field": "v", "type": "quantitative", "axis": null}, "text": {"field": "t"}}}
]
}
]
}
